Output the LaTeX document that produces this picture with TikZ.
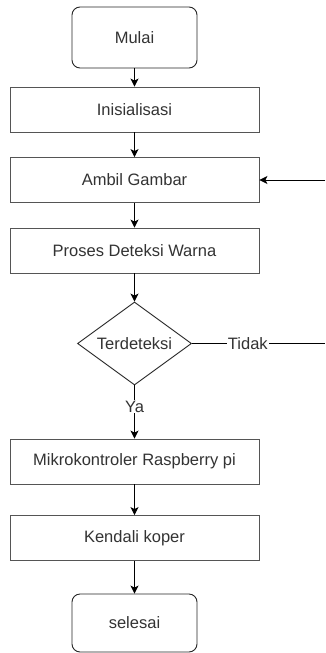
\documentclass[tikz,border=0pt]{standalone}
\usepackage{fontspec}
\setmainfont{Liberation Sans}
\usetikzlibrary{shapes.geometric,arrows.meta}
\definecolor{txt}{HTML}{333333}
\definecolor{edge}{HTML}{555555}
\tikzset{
  procbox/.style={draw=edge, line width=0.9pt, rectangle, minimum width=249pt, minimum height=45pt, inner sep=0pt, text=txt, font=\fontsize{16.5pt}{19pt}\selectfont},
  termbox/.style={draw=black!85, line width=0.9pt, rectangle, rounded corners=8pt, minimum width=125pt, minimum height=61pt, inner sep=0pt, text=txt, font=\fontsize{16.5pt}{19pt}\selectfont},
  decbox/.style={draw=black!85, line width=0.9pt, diamond, aspect=1.37, minimum width=114pt, minimum height=83pt, inner sep=0pt, text=txt, font=\fontsize{16.5pt}{19pt}\selectfont},
  flow/.style={draw=black, line width=0.9pt, -{Stealth[length=8pt,width=8pt,inset=2pt]}},
  plain/.style={draw=black, line width=0.9pt},
  lbl/.style={fill=white, inner sep=1pt, text=txt, font=\fontsize{16.5pt}{19pt}\selectfont}
}
\begin{document}
\begin{tikzpicture}[x=1pt,y=-1pt]
\useasboundingbox[fill=white] (0,0) rectangle (325,653);
\node[termbox] (mulai) at (134.5,37.5) {Mulai};
\node[procbox] (init) at (134.5,109.5) {Inisialisasi};
\node[procbox] (ambil) at (134.5,180) {Ambil Gambar};
\node[procbox] (proses) at (134.5,250.5) {Proses Deteksi Warna};
\node[decbox] (det) at (134.5,343.5) {Terdeteksi};
\node[procbox] (mikro) at (134.5,461.5) {Mikrokontroler Raspberry pi};
\node[procbox] (kendali) at (134.5,538) {Kendali koper};
\node[termbox, minimum height=58pt] (selesai) at (134.5,623) {selesai};
\coordinate (loopin) at (325,180);
\coordinate (loopout) at (325,343.5);
\draw[flow] (mulai) -- (init);
\draw[flow] (init) -- (ambil);
\draw[flow] (ambil) -- (proses);
\draw[flow] (proses) -- (det);
\draw[flow] (det) -- node[lbl, pos=0.4] {Ya} (mikro);
\draw[flow] (mikro) -- (kendali);
\draw[flow] (kendali) -- (selesai);
\draw[plain] (det.east) -- node[lbl, pos=0.42] {Tidak} (loopout);
\draw[flow] (loopin) -- (ambil.east);
\end{tikzpicture}
\end{document}
